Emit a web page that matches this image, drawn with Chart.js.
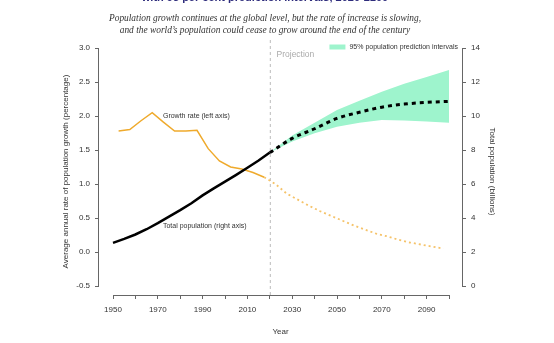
<!DOCTYPE html>
<html>
<head>
<meta charset="utf-8">
<script src="https://cdn.jsdelivr.net/npm/chart.js@4/dist/chart.umd.min.js"></script>
<style>
  html, body { margin: 0; padding: 0; background: #fff; }
  #wrap { position: relative; width: 554px; height: 343px; overflow: hidden; }
  canvas { position: absolute; left: 0; top: 0; }
  .head { position: absolute; left: -24px; width: 578px; text-align: center; white-space: nowrap; }
  #t1 { top: -9px; font: bold 11px "Liberation Sans", Arial, sans-serif; color: #2e2c7c; }
  #t2 { top: 12px; font: italic 9.4px "Liberation Serif", "Times New Roman", serif; color: #333; line-height: 12px; }
</style>
</head>
<body>
<div id="wrap">
  <canvas id="c" width="554" height="343"></canvas>
  <div class="head" id="t1">with 95 per cent prediction intervals, 2020-2100</div>
  <div class="head" id="t2">Population growth continues at the global level, but the rate of increase is slowing,<br>and the world’s population could cease to grow around the end of the century</div>
</div>
<script>
// growth rate, 5-year periods (left axis, %)
const rateYears = [1952.5, 1957.5, 1962.5, 1967.5, 1972.5, 1977.5, 1982.5, 1987.5, 1992.5, 1997.5, 2002.5, 2007.5, 2012.5, 2017.5];
const rateValues = [1.78, 1.80, 1.93, 2.05, 1.91, 1.78, 1.78, 1.79, 1.52, 1.34, 1.25, 1.22, 1.17, 1.10];
const rateProjYears = [2017.5, 2022.5, 2027.5, 2032.5, 2037.5, 2042.5, 2047.5, 2052.5, 2057.5, 2062.5, 2067.5, 2072.5, 2077.5, 2082.5, 2087.5, 2092.5, 2097.5];
const rateProjValues = [1.10, 1.00, 0.86, 0.77, 0.68, 0.60, 0.53, 0.46, 0.39, 0.33, 0.27, 0.23, 0.18, 0.14, 0.11, 0.08, 0.05];

// total population (right axis, billions)
const popYears = [1950, 1955, 1960, 1965, 1970, 1975, 1980, 1985, 1990, 1995, 2000, 2005, 2010, 2015, 2020];
const popValues = [2.54, 2.77, 3.03, 3.34, 3.70, 4.08, 4.46, 4.87, 5.33, 5.74, 6.14, 6.54, 6.96, 7.38, 7.85];
const projYears = [2020, 2030, 2040, 2050, 2060, 2070, 2080, 2090, 2100];
const projValues = [7.85, 8.68, 9.25, 9.86, 10.22, 10.52, 10.70, 10.80, 10.86];
const projLower = [7.85, 8.50, 8.98, 9.37, 9.60, 9.76, 9.74, 9.68, 9.60];
const projUpper = [7.85, 8.85, 9.60, 10.35, 10.90, 11.43, 11.90, 12.30, 12.70];

const xTicks = [1950, 1960, 1970, 1980, 1990, 2000, 2010, 2020, 2030, 2040, 2050, 2060, 2070, 2080, 2090, 2100];
const rateTicks = [-0.5, 0, 0.5, 1.0, 1.5, 2.0, 2.5, 3.0];
const popTicks = [0, 2, 4, 6, 8, 10, 12, 14];

const axisGrey = '#666';
const orange = '#efaa2c';
const mint = '#9ef4cd';

Chart.defaults.font.family = '"Liberation Sans", Arial, sans-serif';
Chart.defaults.font.size = 8;
Chart.defaults.color = '#333';

const pts = (xs, ys) => xs.map((x, i) => ({ x, y: ys[i] }));
const setTicks = list => scale => { scale.ticks = list.map(v => ({ value: v })); };

// R-style axis lines that run only from the first to the last tick
const rAxes = {
  id: 'rAxes',
  afterDraw(chart) {
    const { ctx, chartArea, scales } = chart;
    ctx.save();
    ctx.strokeStyle = axisGrey;
    ctx.lineWidth = 1;
    ctx.beginPath();
    ctx.moveTo(scales.x.getPixelForValue(xTicks[0]), chartArea.bottom + 0.5);
    ctx.lineTo(scales.x.getPixelForValue(xTicks[xTicks.length - 1]), chartArea.bottom + 0.5);
    ctx.moveTo(chartArea.left - 0.5, scales.y.getPixelForValue(rateTicks[0]));
    ctx.lineTo(chartArea.left - 0.5, scales.y.getPixelForValue(rateTicks[rateTicks.length - 1]));
    ctx.moveTo(chartArea.right + 0.5, scales.y2.getPixelForValue(popTicks[0]));
    ctx.lineTo(chartArea.right + 0.5, scales.y2.getPixelForValue(popTicks[popTicks.length - 1]));
    ctx.stroke();
    ctx.restore();
  },
};

// projection divider, in-plot labels and legend key
const notes = {
  id: 'notes',
  beforeDatasetsDraw(chart) {
    const { ctx, chartArea, scales } = chart;
    const px = scales.x.getPixelForValue(2020);
    ctx.save();
    ctx.strokeStyle = '#bbb';
    ctx.setLineDash([3, 3]);
    ctx.beginPath();
    ctx.moveTo(px + 0.5, chartArea.top - 8);
    ctx.lineTo(px + 0.5, chartArea.bottom);
    ctx.stroke();
    ctx.restore();
  },
  afterDatasetsDraw(chart) {
    const { ctx, chartArea, scales } = chart;
    ctx.save();
    ctx.textBaseline = 'middle';
    ctx.font = '8.5px "Liberation Sans", Arial, sans-serif';
    ctx.fillStyle = '#aaa';
    ctx.fillText('Projection', scales.x.getPixelForValue(2023), chartArea.top + 7);
    ctx.font = '7px "Liberation Sans", Arial, sans-serif';
    ctx.fillStyle = '#333';
    ctx.fillText('Growth rate (left axis)', scales.x.getPixelForValue(1972.3), scales.y.getPixelForValue(2.0));
    ctx.fillText('Total population (right axis)', scales.x.getPixelForValue(1972.3), scales.y2.getPixelForValue(3.55));
    // legend
    const label = '95% population prediction intervals';
    const tx = chartArea.right - 4 - ctx.measureText(label).width;
    ctx.fillText(label, tx, chartArea.top - 1);
    ctx.strokeStyle = mint;
    ctx.lineWidth = 5;
    ctx.beginPath();
    ctx.moveTo(tx - 20, chartArea.top - 1);
    ctx.lineTo(tx - 4, chartArea.top - 1);
    ctx.stroke();
    ctx.restore();
  },
};

const tickGrid = {
  drawOnChartArea: false,
  drawTicks: true,
  tickLength: 4,
  tickColor: axisGrey,
  color: axisGrey,
};

// datasets listed first are painted last (on top)
new Chart(document.getElementById('c'), {
  type: 'line',
  data: {
    datasets: [
      {
        label: 'Total population projection',
        data: pts(projYears, projValues),
        yAxisID: 'y2',
        borderColor: '#000',
        borderWidth: 3,
        borderDash: [4, 4],
        pointRadius: 0,
        cubicInterpolationMode: 'monotone',
      },
      {
        label: 'Total population',
        data: pts(popYears, popValues),
        yAxisID: 'y2',
        borderColor: '#000',
        borderWidth: 2.5,
        pointRadius: 0,
      },
      {
        label: 'Growth rate projection',
        data: pts(rateProjYears, rateProjValues),
        yAxisID: 'y',
        borderColor: '#f5c36a',
        borderWidth: 1.8,
        borderDash: [2, 3],
        pointRadius: 0,
      },
      {
        label: 'Growth rate',
        data: pts(rateYears, rateValues),
        yAxisID: 'y',
        borderColor: orange,
        borderWidth: 1.5,
        pointRadius: 0,
      },
      {
        label: 'lower',
        data: pts(projYears, projLower),
        yAxisID: 'y2',
        borderWidth: 0,
        pointRadius: 0,
        fill: false,
      },
      {
        label: '95% population prediction intervals',
        data: pts(projYears, projUpper),
        yAxisID: 'y2',
        borderWidth: 0,
        pointRadius: 0,
        backgroundColor: mint,
        fill: '-1',
      },
    ],
  },
  options: {
    responsive: false,
    animation: false,
    layout: { padding: { top: 48, left: 0, right: 0, bottom: 0 } },
    plugins: {
      legend: { display: false },
      tooltip: { enabled: false },
    },
    scales: {
      x: {
        type: 'linear',
        min: 1943.75,
        max: 2105.8,
        afterBuildTicks: setTicks(xTicks),
        afterFit: s => { s.height = 48; },
        grid: tickGrid,
        border: { display: false },
        ticks: {
          padding: 6,
          maxRotation: 0,
          autoSkip: false,
          callback: v => ((v - 1950) % 20 === 0 ? String(v) : ''),
        },
        title: { display: true, text: 'Year', padding: { top: 0, bottom: 6 } },
      },
      y: {
        position: 'left',
        min: -0.632,
        max: 3.0,
        afterBuildTicks: setTicks(rateTicks),
        afterFit: s => { s.width = 99; },
        grid: tickGrid,
        border: { display: false },
        ticks: { padding: 5, callback: v => v.toFixed(1) },
        title: {
          display: true,
          text: 'Average annual rate of population growth (percentage)',
          padding: { top: 61, bottom: 0 },
        },
      },
      y2: {
        position: 'right',
        min: -0.529,
        max: 14,
        afterBuildTicks: setTicks(popTicks),
        afterFit: s => { s.width = 92; },
        grid: tickGrid,
        border: { display: false },
        ticks: { padding: 5 },
        title: {
          display: true,
          text: 'Total population (billions)',
          padding: { top: 57, bottom: 0 },
        },
      },
    },
  },
  plugins: [rAxes, notes],
});
</script>
</body>
</html>
